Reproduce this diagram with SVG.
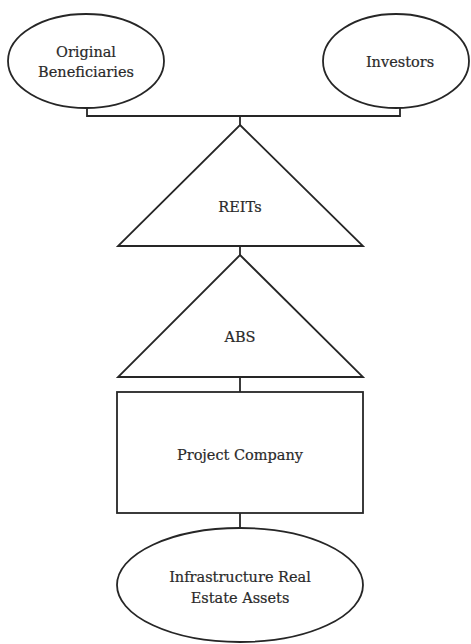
<svg xmlns="http://www.w3.org/2000/svg" width="471" height="644" viewBox="0 0 471 644">
<style>
.s{fill:#fff;stroke:#262626;stroke-width:1.8}
.c{fill:none;stroke:#262626;stroke-width:1.8}
.t{font-family:"DejaVu Serif","Liberation Serif",serif;font-size:14.5px;fill:#2a2a2a;text-anchor:middle;dominant-baseline:central;stroke:#2a2a2a;stroke-width:0.2}
</style>
<rect width="471" height="644" fill="#fff"/>
<g id="connectors">
<path class="c" d="M87,108 V116 H400 V108"/>
<path class="c" d="M240,116 V125"/>
<path class="c" d="M240,246 V255"/>
<path class="c" d="M240,377 V392"/>
<path class="c" d="M240,513 V527"/>
</g>
<g id="original-beneficiaries">
<ellipse class="s" cx="86" cy="61" rx="78" ry="47"/>
<text class="t" x="86" y="52">Original</text>
<text class="t" x="86" y="72">Beneficiaries</text>
</g>
<g id="investors">
<ellipse class="s" cx="396" cy="61" rx="73" ry="47"/>
<text class="t" x="400" y="62">Investors</text>
</g>
<g id="reits">
<polygon class="s" points="240,125 363,246 118,246"/>
<text class="t" x="240" y="207">REITs</text>
</g>
<g id="abs">
<polygon class="s" points="240,255 363,377 118,377"/>
<text class="t" x="240" y="337">ABS</text>
</g>
<g id="project-company">
<rect class="s" x="117" y="392" width="246" height="121"/>
<text class="t" x="240" y="455">Project Company</text>
</g>
<g id="infrastructure">
<ellipse class="s" cx="240" cy="585" rx="123" ry="57"/>
<text class="t" x="240" y="577">Infrastructure Real</text>
<text class="t" x="240" y="598">Estate Assets</text>
</g>
</svg>
